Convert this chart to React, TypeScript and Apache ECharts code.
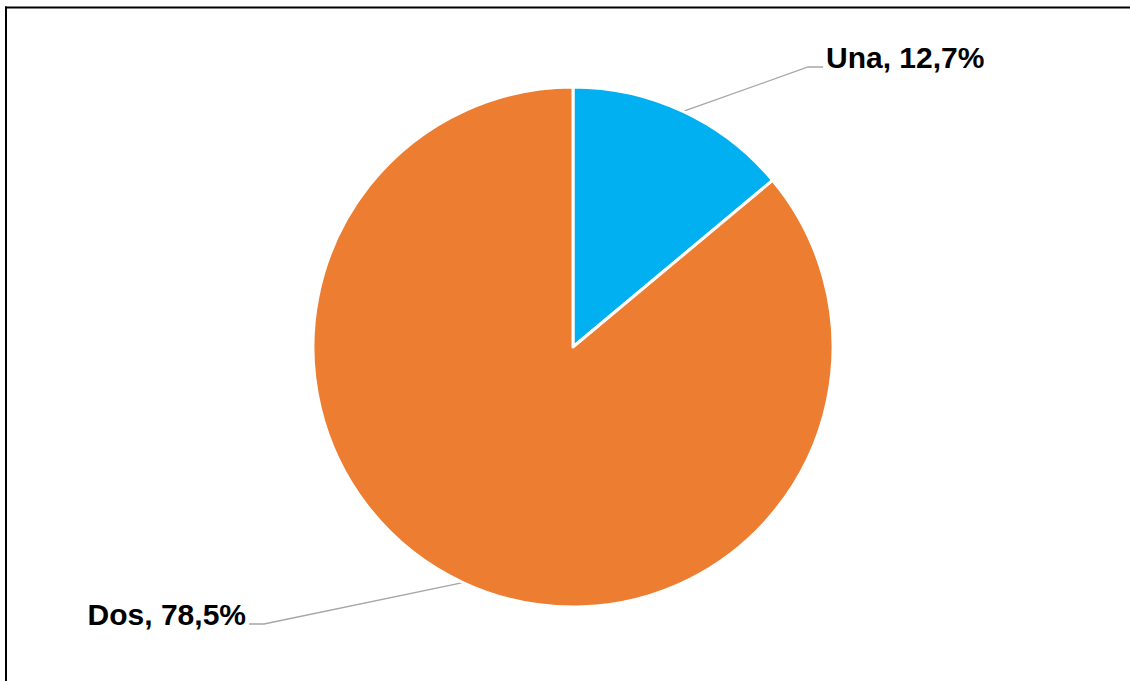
import React, { useEffect, useRef } from "react";
import * as echarts from "echarts";

const categories = ["Una", "Dos"];
const values = [12.7, 78.5];
const colors = ["#00B0F0", "#ED7D31"];
// label anchor: [x, y(center), align]
const labelAnchors: [number, number, "left" | "right"][] = [
  [826, 57, "left"],
  [246, 614, "right"],
];

export default function App() {
  const ref = useRef<HTMLDivElement>(null);
  useEffect(() => {
    if (!ref.current) return;
    const chart = echarts.init(ref.current, undefined, { renderer: "svg" });
    chart.setOption({
      animation: false,
      backgroundColor: "#ffffff",
      graphic: [
        { type: "line", shape: { x1: 5, y1: 7.5, x2: 1130, y2: 7.5 }, style: { stroke: "#000", lineWidth: 2 } },
        { type: "line", shape: { x1: 6, y1: 6.5, x2: 6, y2: 681 }, style: { stroke: "#000", lineWidth: 2 } },
      ],
      series: [
        {
          type: "pie",
          center: [573, 347],
          radius: 260,
          startAngle: 90,
          clockwise: true,
          avoidLabelOverlap: false,
          data: categories.map((c, i) => ({
            name: c,
            value: values[i],
            itemStyle: { color: colors[i] },
          })),
          itemStyle: { borderColor: "#ffffff", borderWidth: 3 },
          label: {
            show: true,
            position: "outside",
            formatter: (p: any) => `${p.name}, ${p.value.toFixed(1).replace(".", ",")}%`,
            fontFamily: "Liberation Sans, Arial, sans-serif",
            fontWeight: "bold",
            fontSize: 30,
            color: "#000000",
          },
          labelLine: {
            show: true,
            length: 20,
            length2: 20,
            lineStyle: { color: "#A6A6A6", width: 1.3 },
          },
          labelLayout: (p: any) => {
            const a = labelAnchors[p.dataIndex];
            const pts = p.labelLinePoints;
            const start = pts ? pts[0] : [0, 0];
            const baseY = a[1] + 10;
            const dir = a[2] === "left" ? -1 : 1;
            const endX = a[0] + dir * 3;
            return {
              x: a[0],
              y: a[1],
              align: a[2],
              verticalAlign: "middle",
              labelLinePoints: [start, [endX + dir * 15, baseY], [endX, baseY]],
            };
          },
        },
      ],
    });
    return () => chart.dispose();
  }, []);
  return (
    <div
      ref={ref}
      style={{ position: "fixed", left: 0, top: 0, width: 1130, height: 681 }}
    />
  );
}
